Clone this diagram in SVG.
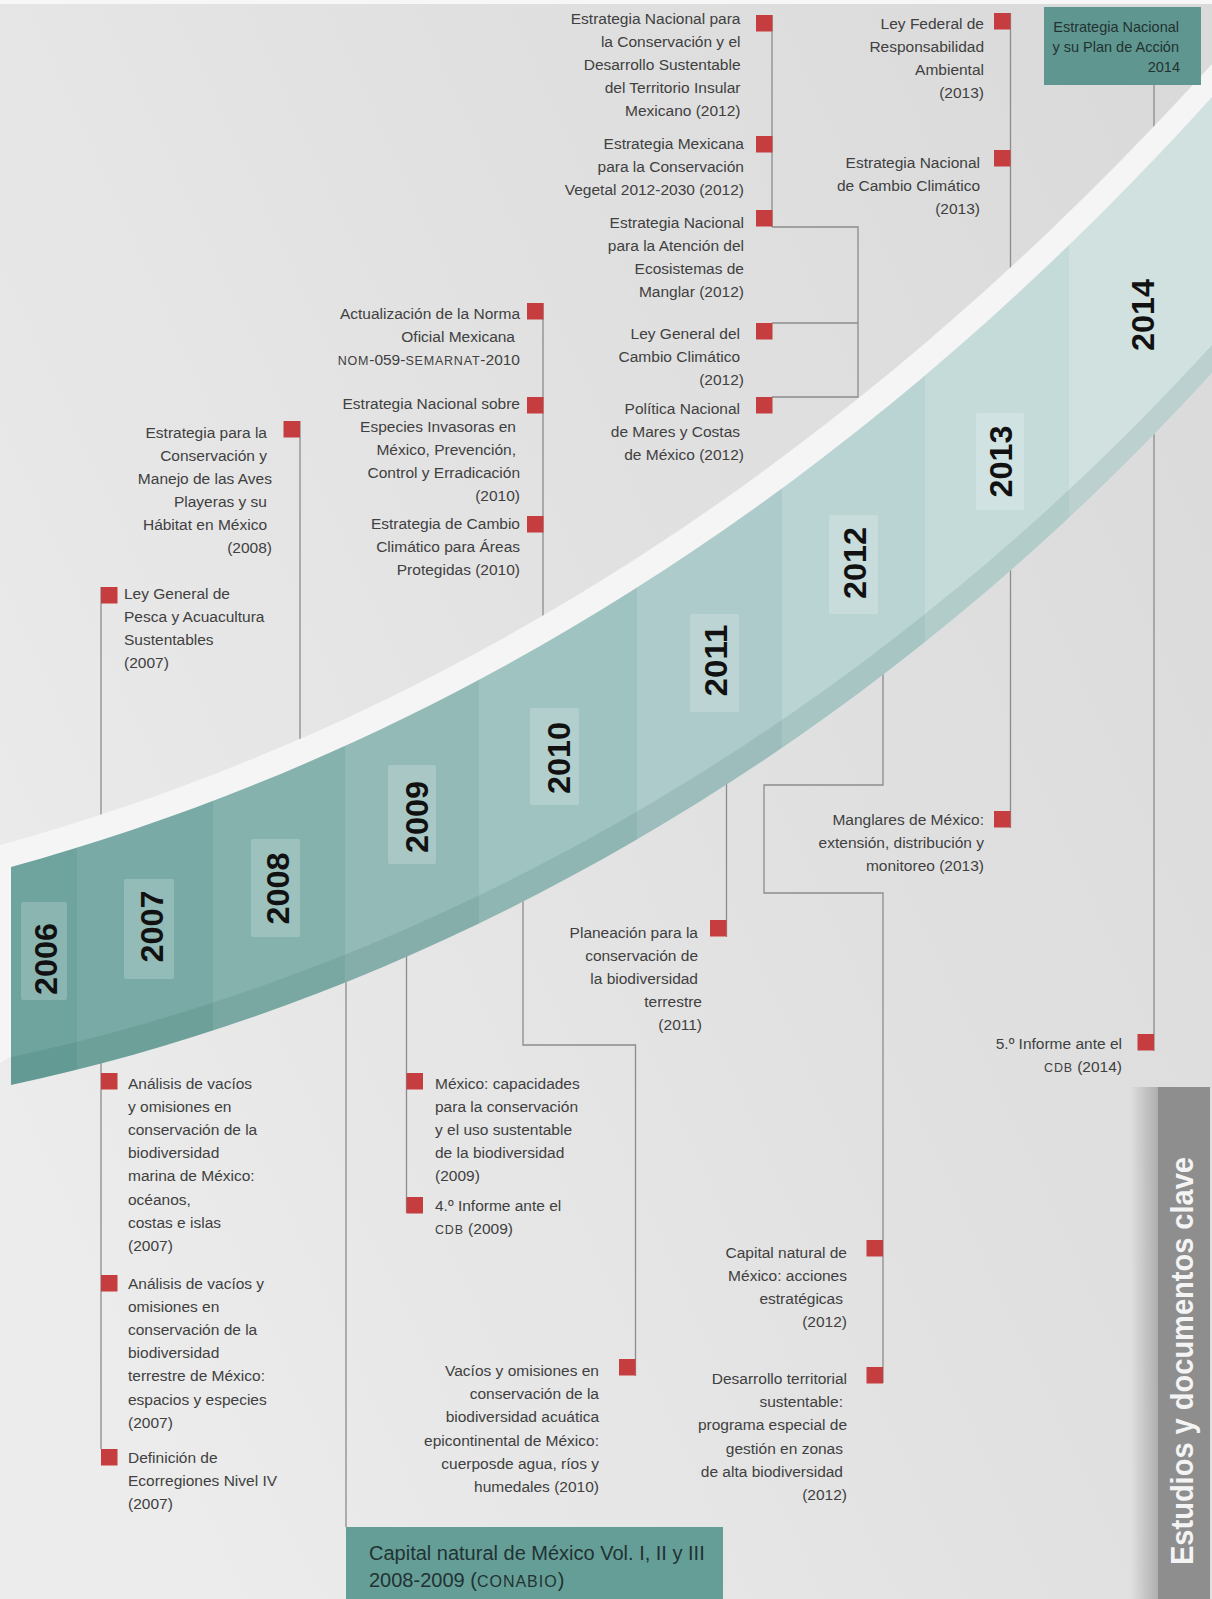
<svg xmlns="http://www.w3.org/2000/svg" width="1212" height="1599" viewBox="0 0 1212 1599">
<defs>
  <linearGradient id="bg" x1="0" y1="0.75" x2="1" y2="0.15">
    <stop offset="0" stop-color="#ececec"/>
    <stop offset="0.5" stop-color="#e2e2e2"/>
    <stop offset="1" stop-color="#dadada"/>
  </linearGradient>
  <linearGradient id="shadow" x1="0" y1="0" x2="1" y2="0">
    <stop offset="0" stop-color="#000" stop-opacity="0"/>
    <stop offset="1" stop-color="#000" stop-opacity="0.22"/>
  </linearGradient>
  <clipPath id="bandClip">
    <path d="M11,867 C400,760 820,530 1212,97 L1212,373 C850,770 411,1000 11,1085 Z"/>
  </clipPath>
  <style>
    .t { font-family: "Liberation Sans", Arial, sans-serif; font-size: 15.5px; fill: #404040; }
    .r { text-anchor: end; }
    .sc { font-size: 12.5px; letter-spacing: 0.8px; }
    .sq { fill: #c53d3e; }
    .ln { stroke: #8c8c8c; stroke-width: 1.3; fill: none; }
    .yr { font-family: "Liberation Sans", Arial, sans-serif; font-weight: bold; font-size: 31px; fill: #111; text-anchor: middle; }
    .ybox { fill: #ffffff; fill-opacity: 0.2; }
    .bx { font-family: "Liberation Sans", Arial, sans-serif; fill: #223232; }
  </style>
</defs>

<rect x="0" y="0" width="1212" height="1599" fill="url(#bg)"/>
<rect x="0" y="0" width="1212" height="4" fill="#f7f7f7"/>

<g id="connectors">
  <line class="ln" x1="772" y1="15" x2="772" y2="227"/>
  <polyline class="ln" points="772,227 858,227 858,397 772,397"/>
  <line class="ln" x1="772" y1="323" x2="858" y2="323"/>
  <line class="ln" x1="1010.5" y1="13" x2="1010.5" y2="280"/>
  <line class="ln" x1="1154" y1="85" x2="1154" y2="1051"/>
  <line class="ln" x1="1010.5" y1="560" x2="1010.5" y2="828"/>
  <line class="ln" x1="726.5" y1="770" x2="726.5" y2="937"/>
  <polyline class="ln" points="883,660 883,785 764,785 764,893 883,893 883,1383"/>
  <polyline class="ln" points="523,870 523,1045 635.5,1045 635.5,1376"/>
  <line class="ln" x1="406.5" y1="930" x2="406.5" y2="1213"/>
  <line class="ln" x1="346" y1="950" x2="346" y2="1527"/>
  <line class="ln" x1="101" y1="587" x2="101" y2="1449"/>
  <line class="ln" x1="300" y1="421" x2="300" y2="745"/>
  <line class="ln" x1="543" y1="303" x2="543" y2="620"/>
</g>

<g id="timeline-band">
  <path d="M0,845 C389,738 809,508 1212,64 L1212,360 L0,1063 Z" fill="#f5f5f5"/>
  <g clip-path="url(#bandClip)">
    <rect x="11" y="0" width="66" height="1100" fill="#6ea39e"/>
    <rect x="77" y="0" width="136" height="1100" fill="#79aaa5"/>
    <rect x="213" y="0" width="132" height="1100" fill="#85b2ad"/>
    <rect x="345" y="0" width="134" height="1100" fill="#93bab7"/>
    <rect x="479" y="0" width="158" height="1100" fill="#9fc3c1"/>
    <rect x="637" y="0" width="145" height="1100" fill="#accbca"/>
    <rect x="782" y="0" width="143" height="1100" fill="#b9d4d3"/>
    <rect x="925" y="0" width="144" height="1100" fill="#c5dbda"/>
    <rect x="1069" y="0" width="143" height="1100" fill="#d0e1e0"/>
    <path d="M11,1057 C411,972 850,742 1212,345 L1212,373 C850,770 411,1000 11,1085 Z" fill="#1f4f4a" fill-opacity="0.11"/>
  </g>
</g>

<g id="year-2006"><rect class="ybox" x="21" y="902" width="46" height="98" rx="2"/><text class="yr" transform="translate(57,959) rotate(-90)" textLength="72" lengthAdjust="spacingAndGlyphs">2006</text></g>
<g id="year-2007"><rect class="ybox" x="124" y="879" width="50" height="100" rx="2"/><text class="yr" transform="translate(163,926.5) rotate(-90)" textLength="72" lengthAdjust="spacingAndGlyphs">2007</text></g>
<g id="year-2008"><rect class="ybox" x="251" y="839" width="49" height="98" rx="2"/><text class="yr" transform="translate(289,888.5) rotate(-90)" textLength="72" lengthAdjust="spacingAndGlyphs">2008</text></g>
<g id="year-2009"><rect class="ybox" x="388" y="765" width="48" height="99" rx="2"/><text class="yr" transform="translate(428,817) rotate(-90)" textLength="72" lengthAdjust="spacingAndGlyphs">2009</text></g>
<g id="year-2010"><rect class="ybox" x="530" y="708" width="49" height="97" rx="2"/><text class="yr" transform="translate(570,758) rotate(-90)" textLength="72" lengthAdjust="spacingAndGlyphs">2010</text></g>
<g id="year-2011"><rect class="ybox" x="690" y="614" width="49" height="98" rx="2"/><text class="yr" transform="translate(727,660.5) rotate(-90)" textLength="72" lengthAdjust="spacingAndGlyphs">2011</text></g>
<g id="year-2012"><rect class="ybox" x="829" y="515" width="49" height="99" rx="2"/><text class="yr" transform="translate(866,563) rotate(-90)" textLength="72" lengthAdjust="spacingAndGlyphs">2012</text></g>
<g id="year-2013"><rect class="ybox" x="976" y="413" width="48" height="97" rx="2" fill-opacity="0.12"/><text class="yr" transform="translate(1012,461.5) rotate(-90)" textLength="72" lengthAdjust="spacingAndGlyphs">2013</text></g>
<g id="year-2014"><text class="yr" transform="translate(1154,315) rotate(-90)" textLength="72" lengthAdjust="spacingAndGlyphs">2014</text></g>

<g id="node-insular">
  <rect class="sq" x="756" y="15" width="16.5" height="16.5"/>
  <text class="t r" x="740.5" y="23.5">Estrategia Nacional para</text>
  <text class="t r" x="740.5" y="46.7">la Conservación y el</text>
  <text class="t r" x="740.5" y="69.9">Desarrollo Sustentable</text>
  <text class="t r" x="740.5" y="93.1">del Territorio Insular</text>
  <text class="t r" x="740.5" y="116.3">Mexicano (2012)</text>
</g>
<g id="node-vegetal">
  <rect class="sq" x="756" y="136" width="16.5" height="16.5"/>
  <text class="t r" x="744" y="148.5">Estrategia Mexicana</text>
  <text class="t r" x="744" y="171.7">para la Conservación</text>
  <text class="t r" x="744" y="194.9">Vegetal 2012-2030 (2012)</text>
</g>
<g id="node-manglar">
  <rect class="sq" x="756" y="210" width="16.5" height="16.5"/>
  <text class="t r" x="744" y="227.5">Estrategia Nacional</text>
  <text class="t r" x="744" y="250.7">para la Atención del</text>
  <text class="t r" x="744" y="273.9">Ecosistemas de</text>
  <text class="t r" x="744" y="297.1">Manglar (2012)</text>
</g>
<g id="node-lgcc">
  <rect class="sq" x="756" y="323" width="16.5" height="16.5"/>
  <text class="t r" x="740" y="338.5">Ley General del</text>
  <text class="t r" x="740" y="361.7">Cambio Climático</text>
  <text class="t r" x="744" y="384.9">(2012)</text>
</g>
<g id="node-mares">
  <rect class="sq" x="756" y="397" width="16.5" height="16.5"/>
  <text class="t r" x="740" y="413.5">Política Nacional</text>
  <text class="t r" x="740" y="436.7">de Mares y Costas</text>
  <text class="t r" x="744" y="459.9">de México (2012)</text>
</g>
<g id="node-lfra">
  <rect class="sq" x="994" y="13" width="16.5" height="16.5"/>
  <text class="t r" x="984" y="28.5">Ley Federal de</text>
  <text class="t r" x="984" y="51.7">Responsabilidad</text>
  <text class="t r" x="984" y="74.9">Ambiental</text>
  <text class="t r" x="984" y="98.1">(2013)</text>
</g>
<g id="node-encc">
  <rect class="sq" x="994" y="150" width="16.5" height="16.5"/>
  <text class="t r" x="980" y="167.5">Estrategia Nacional</text>
  <text class="t r" x="980" y="190.7">de Cambio Climático</text>
  <text class="t r" x="980" y="213.9">(2013)</text>
</g>
<g id="node-enbiomex">
  <rect x="1044" y="7" width="157" height="78" fill="#5f968f"/>
  <text class="bx" x="1179" y="32" font-size="14.5" text-anchor="end">Estrategia Nacional</text>
  <text class="bx" x="1179" y="52" font-size="14.5" text-anchor="end">y su Plan de Acción</text>
  <text class="bx" x="1180" y="72" font-size="14.5" text-anchor="end">2014</text>
</g>
<g id="node-informe5">
  <rect class="sq" x="1137.5" y="1034" width="16.5" height="16.5"/>
  <text class="t r" x="1122" y="1048.5">5.º Informe ante el</text>
  <text class="t r" x="1122" y="1071.7"><tspan class="sc">CDB</tspan> (2014)</text>
</g>
<g id="node-manglares">
  <rect class="sq" x="994" y="811" width="16.5" height="16.5"/>
  <text class="t r" x="984" y="824.5">Manglares de México:</text>
  <text class="t r" x="984" y="847.7">extensión, distribución y</text>
  <text class="t r" x="984" y="870.9">monitoreo (2013)</text>
</g>
<g id="node-planeacion">
  <rect class="sq" x="710" y="920" width="16.5" height="16.5"/>
  <text class="t r" x="698" y="937.5">Planeación para la</text>
  <text class="t r" x="698" y="960.7">conservación de</text>
  <text class="t r" x="698" y="983.9">la biodiversidad</text>
  <text class="t r" x="702" y="1007.1">terrestre</text>
  <text class="t r" x="702" y="1030.3">(2011)</text>
</g>
<g id="node-acciones">
  <rect class="sq" x="866.5" y="1240" width="16.5" height="16.5"/>
  <text class="t r" x="847" y="1257.5">Capital natural de</text>
  <text class="t r" x="847" y="1280.7">México: acciones</text>
  <text class="t r" x="843" y="1303.9">estratégicas</text>
  <text class="t r" x="847" y="1327.1">(2012)</text>
</g>
<g id="node-desarrollo">
  <rect class="sq" x="866.5" y="1367" width="16.5" height="16.5"/>
  <text class="t r" x="847" y="1384">Desarrollo territorial</text>
  <text class="t r" x="843" y="1407.2">sustentable:</text>
  <text class="t r" x="847" y="1430.4">programa especial de</text>
  <text class="t r" x="843" y="1453.6">gestión en zonas</text>
  <text class="t r" x="843" y="1476.8">de alta biodiversidad</text>
  <text class="t r" x="847" y="1500">(2012)</text>
</g>
<g id="node-acuatica">
  <rect class="sq" x="619" y="1359" width="16.5" height="16.5"/>
  <text class="t r" x="599" y="1376">Vacíos y omisiones en</text>
  <text class="t r" x="599" y="1399.2">conservación de la</text>
  <text class="t r" x="599" y="1422.4">biodiversidad acuática</text>
  <text class="t r" x="599" y="1445.6">epicontinental de México:</text>
  <text class="t r" x="599" y="1468.8">cuerposde agua, ríos y</text>
  <text class="t r" x="599" y="1492">humedales (2010)</text>
</g>
<g id="node-capacidades">
  <rect class="sq" x="406.5" y="1073" width="16.5" height="16.5"/>
  <text class="t" x="435" y="1088.5">México: capacidades</text>
  <text class="t" x="435" y="1111.7">para la conservación</text>
  <text class="t" x="435" y="1134.9">y el uso sustentable</text>
  <text class="t" x="435" y="1158.1">de la biodiversidad</text>
  <text class="t" x="435" y="1181.3">(2009)</text>
</g>
<g id="node-informe4">
  <rect class="sq" x="406.5" y="1197" width="16.5" height="16.5"/>
  <text class="t" x="435" y="1211">4.º Informe ante el</text>
  <text class="t" x="435" y="1234.2"><tspan class="sc">CDB</tspan> (2009)</text>
</g>
<g id="node-capital-natural">
  <rect x="346" y="1527" width="377" height="72" fill="#649e97"/>
  <text class="bx" x="369" y="1560" font-size="20">Capital natural de México Vol. I, II y III</text>
  <text class="bx" x="369" y="1587" font-size="20">2008-2009 (<tspan font-size="16" letter-spacing="1">CONABIO</tspan>)</text>
</g>
<g id="node-marina">
  <rect class="sq" x="101" y="1073" width="16.5" height="16.5"/>
  <text class="t" x="128" y="1088.5">Análisis de vacíos</text>
  <text class="t" x="128" y="1111.7">y omisiones en</text>
  <text class="t" x="128" y="1134.9">conservación de la</text>
  <text class="t" x="128" y="1158.1">biodiversidad</text>
  <text class="t" x="128" y="1181.3">marina de México:</text>
  <text class="t" x="128" y="1204.5">océanos,</text>
  <text class="t" x="128" y="1227.7">costas e islas</text>
  <text class="t" x="128" y="1250.9">(2007)</text>
</g>
<g id="node-terrestre">
  <rect class="sq" x="101" y="1275" width="16.5" height="16.5"/>
  <text class="t" x="128" y="1288.5">Análisis de vacíos y</text>
  <text class="t" x="128" y="1311.7">omisiones en</text>
  <text class="t" x="128" y="1334.9">conservación de la</text>
  <text class="t" x="128" y="1358.1">biodiversidad</text>
  <text class="t" x="128" y="1381.3">terrestre de México:</text>
  <text class="t" x="128" y="1404.5">espacios y especies</text>
  <text class="t" x="128" y="1427.7">(2007)</text>
</g>
<g id="node-ecorregiones">
  <rect class="sq" x="101" y="1449" width="16.5" height="16.5"/>
  <text class="t" x="128" y="1462.5">Definición de</text>
  <text class="t" x="128" y="1485.7">Ecorregiones Nivel IV</text>
  <text class="t" x="128" y="1508.9">(2007)</text>
</g>
<g id="node-pesca">
  <rect class="sq" x="101" y="587" width="16.5" height="16.5"/>
  <text class="t" x="124" y="598.5">Ley General de</text>
  <text class="t" x="124" y="621.7">Pesca y Acuacultura</text>
  <text class="t" x="124" y="644.9">Sustentables</text>
  <text class="t" x="124" y="668.1">(2007)</text>
</g>
<g id="node-aves">
  <rect class="sq" x="283.5" y="421" width="16.5" height="16.5"/>
  <text class="t r" x="267" y="437.5">Estrategia para la</text>
  <text class="t r" x="267" y="460.5">Conservación y</text>
  <text class="t r" x="272" y="483.5">Manejo de las Aves</text>
  <text class="t r" x="267" y="506.5">Playeras y su</text>
  <text class="t r" x="267" y="529.5">Hábitat en México</text>
  <text class="t r" x="272" y="552.5">(2008)</text>
</g>
<g id="node-nom059">
  <rect class="sq" x="527" y="303" width="16.5" height="16.5"/>
  <text class="t r" x="520" y="318.5">Actualización de la Norma</text>
  <text class="t r" x="515" y="341.7">Oficial Mexicana</text>
  <text class="t r" x="520" y="364.9"><tspan class="sc">NOM</tspan>-059-<tspan class="sc">SEMARNAT</tspan>-2010</text>
</g>
<g id="node-invasoras">
  <rect class="sq" x="527" y="397" width="16.5" height="16.5"/>
  <text class="t r" x="520" y="408.5">Estrategia Nacional sobre</text>
  <text class="t r" x="516" y="431.7">Especies Invasoras en</text>
  <text class="t r" x="516" y="454.9">México, Prevención,</text>
  <text class="t r" x="520" y="478.1">Control y Erradicación</text>
  <text class="t r" x="520" y="501.3">(2010)</text>
</g>
<g id="node-areas-protegidas">
  <rect class="sq" x="527" y="516" width="16.5" height="16.5"/>
  <text class="t r" x="520" y="528.5">Estrategia de Cambio</text>
  <text class="t r" x="520" y="551.7">Climático para Áreas</text>
  <text class="t r" x="520" y="574.9">Protegidas (2010)</text>
</g>

<g id="side-title">
  <rect x="1130" y="1087" width="28" height="512" fill="url(#shadow)"/>
  <rect x="1158" y="1087" width="52" height="512" fill="#8e8e8e"/>
  <text transform="translate(1193,1565) rotate(-90)" font-family="'Liberation Sans', Arial, sans-serif" font-weight="bold" font-size="31" fill="#f4f4f4" textLength="408" lengthAdjust="spacingAndGlyphs">Estudios y documentos clave</text>
</g>
</svg>
